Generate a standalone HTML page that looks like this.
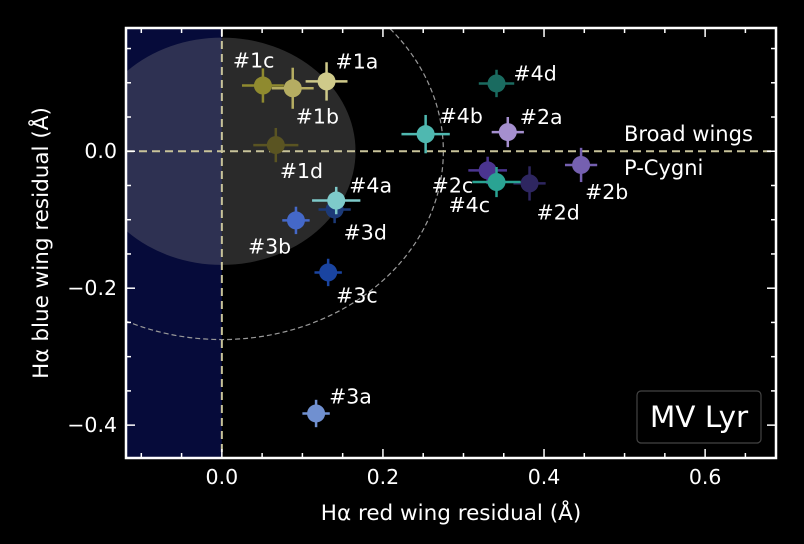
<!DOCTYPE html>
<html><head><meta charset="utf-8"><style>
body{margin:0;background:#000;}
svg{display:block;font-family:"DejaVu Sans","Liberation Sans",sans-serif;}
</style></head><body>
<svg id="chart" width="804" height="544" viewBox="0 0 804 544">
<rect x="0" y="0" width="804" height="544" fill="#000"/>
<g id="plot"></g>
</svg>
<script>
const labels=["#1a","#1b","#1c","#1d","#2a","#2b","#2c","#2d","#3a","#3b","#3c","#3d","#4a","#4b","#4c","#4d"];
const redResid=[0.130,0.088,0.051,0.067,0.355,0.446,0.330,0.382,0.117,0.092,0.132,0.140,0.142,0.253,0.341,0.341];
const blueResid=[0.102,0.092,0.096,0.009,0.028,-0.020,-0.028,-0.047,-0.383,-0.101,-0.177,-0.085,-0.072,0.025,-0.045,0.099];
const xErr=[0.026,0.026,0.026,0.028,0.02,0.02,0.024,0.02,0.017,0.017,0.017,0.02,0.03,0.03,0.03,0.022];
const yErr=[0.028,0.03,0.025,0.025,0.022,0.025,0.02,0.025,0.02,0.02,0.02,0.02,0.02,0.028,0.022,0.02];
const colors=["#cfca8a","#b5ad62","#8f8a2f","#5a5422","#a58fcf","#7560b0","#4b3590","#2e2660","#7090d0","#4468c8","#1a44a0","#1c3a78","#7ecaca","#4fb8b0","#2aa393","#1a6b60"];
const labelDx=[9,3,-30,4,12,4,-56,7,13,-48,8,9,13,14,-48,17];
const labelDy=[-13,35,-18,33,-8,34,22,36,-10,33,30,30,-8,-11,30,-3];
const xTicks=[0,0.2,0.4,0.6];
const xTickLabels=["0.0","0.2","0.4","0.6"];
const yTicks=[0,-0.2,-0.4];
const yTickLabels=["0.0","\u22120.2","\u22120.4"];
const innerR=0.166, outerR=0.275;

const L=126,R=776,T=28,B=458;
const xMin=-0.119,xMax=0.688,yMin=-0.448,yMax=0.18;
const X=v=>L+(v-xMin)/(xMax-xMin)*(R-L);
const Y=v=>B-(v-yMin)/(yMax-yMin)*(B-T);
const g=document.getElementById('plot');
const NS="http://www.w3.org/2000/svg";
function mk(tag,at,parent){const e=document.createElementNS(NS,tag);for(const k in at)e.setAttribute(k,at[k]);(parent||g).appendChild(e);return e;}

let clip=mk('clipPath',{id:'cp'});mk('rect',{x:L,y:T,width:R-L,height:B-T},clip);
const inner=mk('g',{'clip-path':'url(#cp)'});
let e=mk('rect',{x:L,y:T,width:X(0)-L,height:B-T,fill:'#060b3a'},inner);

e=mk('ellipse',{cx:X(0),cy:Y(0),rx:X(innerR)-X(0),ry:Y(0)-Y(innerR),fill:'#8a8a8a','fill-opacity':0.3},inner);

e=mk('ellipse',{cx:X(0),cy:Y(0),rx:X(outerR)-X(0),ry:Y(0)-Y(outerR),fill:'none',stroke:'#999','stroke-width':1.2,'stroke-dasharray':'5,3'},inner);

e=mk('line',{x1:L,x2:R,y1:Y(0),y2:Y(0),stroke:'#c8c39a','stroke-width':2,'stroke-dasharray':'8,5'},inner);

e=mk('line',{x1:X(0),x2:X(0),y1:T,y2:B,stroke:'#c8c39a','stroke-width':2,'stroke-dasharray':'8,5'},inner);


for(let i=0;i<labels.length;i++){
  const cx=X(redResid[i]),cy=Y(blueResid[i]);
  const pg=mk('g',{},inner);
  
  
  mk('line',{x1:X(redResid[i]-xErr[i]),x2:X(redResid[i]+xErr[i]),y1:cy,y2:cy,stroke:colors[i],'stroke-width':2.5},pg);
  mk('line',{x1:cx,x2:cx,y1:Y(blueResid[i]-yErr[i]),y2:Y(blueResid[i]+yErr[i]),stroke:colors[i],'stroke-width':2.5},pg);
  mk('circle',{cx:cx,cy:cy,r:9,fill:colors[i]},pg);
  const t=mk('text',{x:cx+labelDx[i],y:cy+labelDy[i],fill:'#fff','font-size':20.5},pg);
  t.textContent=labels[i];
}
e=mk('text',{x:624,y:141,fill:'#fff','font-size':21});e.textContent='Broad wings';

e=mk('text',{x:624,y:175,fill:'#fff','font-size':21});e.textContent='P-Cygni';


const tk=mk('g',{stroke:'#fff','stroke-width':1.5});
for(let v=-0.1;v<=0.69;v+=0.05){const x=X(v);const maj=Math.abs(v/0.2-Math.round(v/0.2))<1e-6;const len=maj?9:5;
  mk('line',{x1:x,x2:x,y1:B,y2:B-len},tk);mk('line',{x1:x,x2:x,y1:T,y2:T+len},tk);}
for(let v=-0.4;v<=0.18;v+=0.05){const y=Y(v);const maj=Math.abs(v/0.2-Math.round(v/0.2))<1e-6;const len=maj?9:5;
  mk('line',{x1:L,x2:L+len,y1:y,y2:y},tk);mk('line',{x1:R,x2:R-len,y1:y,y2:y},tk);}
for(let i=0;i<xTicks.length;i++){e=mk('text',{x:X(xTicks[i]),y:B+26,fill:'#fff','font-size':20.5,'text-anchor':'middle'});e.textContent=xTickLabels[i];
  }
for(let i=0;i<yTicks.length;i++){e=mk('text',{x:L-9,y:Y(yTicks[i])+7,fill:'#fff','font-size':20.5,'text-anchor':'end'});e.textContent=yTickLabels[i];
  }
e=mk('rect',{x:L,y:T,width:R-L,height:B-T,fill:'none',stroke:'#fff','stroke-width':2.5});


e=mk('rect',{x:637,y:391,width:124,height:52,rx:4,fill:'#000',stroke:'#444','stroke-width':1.2});

e=mk('text',{x:699,y:427,fill:'#fff','font-size':29.5,'text-anchor':'middle'});e.textContent='MV Lyr';


e=mk('text',{x:451,y:520,fill:'#fff','font-size':21.5,'text-anchor':'middle'});e.textContent='H\u03B1 red wing residual (\u00C5)';

e=mk('text',{x:0,y:0,fill:'#fff','font-size':21.5,'text-anchor':'middle',transform:'translate(48,243) rotate(-90)'});e.textContent='H\u03B1 blue wing residual (\u00C5)';

</script>
</body></html>
